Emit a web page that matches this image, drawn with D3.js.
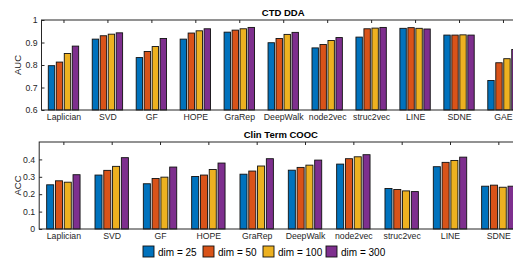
<!DOCTYPE html>
<html><head><meta charset="utf-8">
<script src="https://cdn.jsdelivr.net/npm/d3@7"></script>
<style>body{margin:0;background:#fff;overflow:hidden}svg{display:block}</style>
</head><body>
<svg id="c" width="513" height="263"></svg>
<script>
const seriesNames = ["dim = 25","dim = 50","dim = 100","dim = 300"];
const colors = ["#0072BD","#D95319","#EDB120","#7E2F8E"];

const topCategories = ["Laplician","SVD","GF","HOPE","GraRep","DeepWalk","node2vec","struc2vec","LINE","SDNE","GAE"];
const aucDim25  = [0.797,0.915,0.833,0.915,0.946,0.899,0.876,0.924,0.963,0.933,0.731];
const aucDim50  = [0.813,0.930,0.860,0.942,0.955,0.918,0.891,0.961,0.966,0.933,0.810];
const aucDim100 = [0.851,0.937,0.882,0.952,0.961,0.936,0.909,0.964,0.963,0.934,0.828];
const aucDim300 = [0.884,0.943,0.918,0.961,0.967,0.945,0.922,0.967,0.960,0.933,0.869];
const aucTicks = [0.6,0.7,0.8,0.9,1];

const botCategories = ["Laplician","SVD","GF","HOPE","GraRep","DeepWalk","node2vec","struc2vec","LINE","SDNE"];
const accDim25  = [0.254,0.310,0.260,0.302,0.315,0.338,0.373,0.233,0.358,0.246];
const accDim50  = [0.277,0.337,0.290,0.310,0.333,0.354,0.404,0.227,0.383,0.252];
const accDim100 = [0.269,0.360,0.298,0.342,0.362,0.367,0.415,0.219,0.394,0.240];
const accDim300 = [0.312,0.410,0.356,0.379,0.404,0.396,0.427,0.215,0.413,0.246];
const accTicks = [0,0.1,0.2,0.3,0.4];

const svg = d3.select("#c");
const axisCol = "#262626";
const font = "'Liberation Sans', Arial, sans-serif";

function panel(opt){
  const g = svg.append("g");
  const n = opt.cats.length;
  const x = d3.scaleLinear().domain([0.5, n+0.5]).range([opt.left, opt.left + n*opt.step]);
  const y = d3.scaleLinear().domain(opt.yDomain).range([opt.bottom, opt.top]);
  const series = opt.series;
  const groupW = 4/5.5, slot = groupW/4, barW = slot*0.8;
  series.forEach((vals, j) => {
    g.append("g").selectAll("rect").data(vals).join("rect")
      .attr("x", (d,i) => x(i+1 + (j-1.5)*slot - barW/2))
      .attr("width", x(barW) - x(0))
      .attr("y", d => y(d))
      .attr("height", d => y(opt.yDomain[0]) - y(d))
      .attr("fill", colors[j])
      .attr("stroke", "#111")
      .attr("stroke-width", 0.9);
  });
  const x0 = x.range()[0], x1 = x.range()[1];
  g.append("rect").attr("x", x0).attr("y", opt.top).attr("width", x1-x0).attr("height", opt.bottom-opt.top)
    .attr("fill","none").attr("stroke",axisCol).attr("stroke-width",1);
  const xTop = d3.axisTop(x).tickValues(d3.range(1,n+1)).tickSizeInner(-3).tickSizeOuter(0).tickFormat("");
  g.append("g").attr("transform",`translate(0,${opt.top})`).call(xTop)
    .call(s=>s.select(".domain").remove())
    .call(s=>s.selectAll("line").attr("stroke",axisCol));
  const xBot = d3.axisBottom(x).tickValues(d3.range(1,n+1)).tickSize(0).tickPadding(4)
    .tickFormat(i => opt.cats[i-1]);
  g.append("g").attr("transform",`translate(0,${opt.bottom})`).call(xBot)
    .call(s=>s.select(".domain").remove())
    .call(s=>s.selectAll("text").attr("font-family",font).attr("font-size",8.7).attr("fill",axisCol));
  const yAx = d3.axisLeft(y).tickValues(opt.yTicks).tickSizeInner(-3).tickSizeOuter(0).tickPadding(4)
    .tickFormat(d3.format("~g"));
  g.append("g").attr("transform",`translate(${x0},0)`).call(yAx)
    .call(s=>s.select(".domain").remove())
    .call(s=>s.selectAll("line").attr("stroke",axisCol))
    .call(s=>s.selectAll("text").attr("font-family",font).attr("font-size",8.7).attr("fill",axisCol));
  g.append("text").attr("transform",`translate(${opt.yLabelX},${(opt.top+opt.bottom)/2}) rotate(-90)`)
    .attr("text-anchor","middle").attr("font-family",font).attr("font-size",9.5).attr("fill",axisCol)
    .text(opt.yLabel);
  g.append("text").attr("x",(x0+x1)/2).attr("y",opt.top-4).attr("text-anchor","middle")
    .attr("font-family",font).attr("font-size",9.5).attr("font-weight","bold").attr("fill","#000")
    .text(opt.title);
}

panel({cats: topCategories, series:[aucDim25,aucDim50,aucDim100,aucDim300],
  left:41.5, step:43.95, top:20, bottom:110, yDomain:[0.6,1], yTicks:aucTicks,
  yLabel:"AUC", yLabelX:21, title:"CTD DDA"});
panel({cats: botCategories, series:[accDim25,accDim50,accDim100,accDim300],
  left:39.2, step:48.33, top:142, bottom:229, yDomain:[0,0.5], yTicks:accTicks,
  yLabel:"ACC", yLabelX:21, title:"Clin Term COOC"});

const legX = [143, 203, 263, 326];
const leg = svg.append("g");
seriesNames.forEach((name,j)=>{
  leg.append("rect").attr("x",legX[j]).attr("y",246).attr("width",11).attr("height",11)
    .attr("fill",colors[j]).attr("stroke","#111").attr("stroke-width",0.9);
  leg.append("text").attr("x",legX[j]+15).attr("y",255.5).attr("font-family",font).attr("font-size",10)
    .attr("fill","#000").text(name);
});
</script>
</body></html>
